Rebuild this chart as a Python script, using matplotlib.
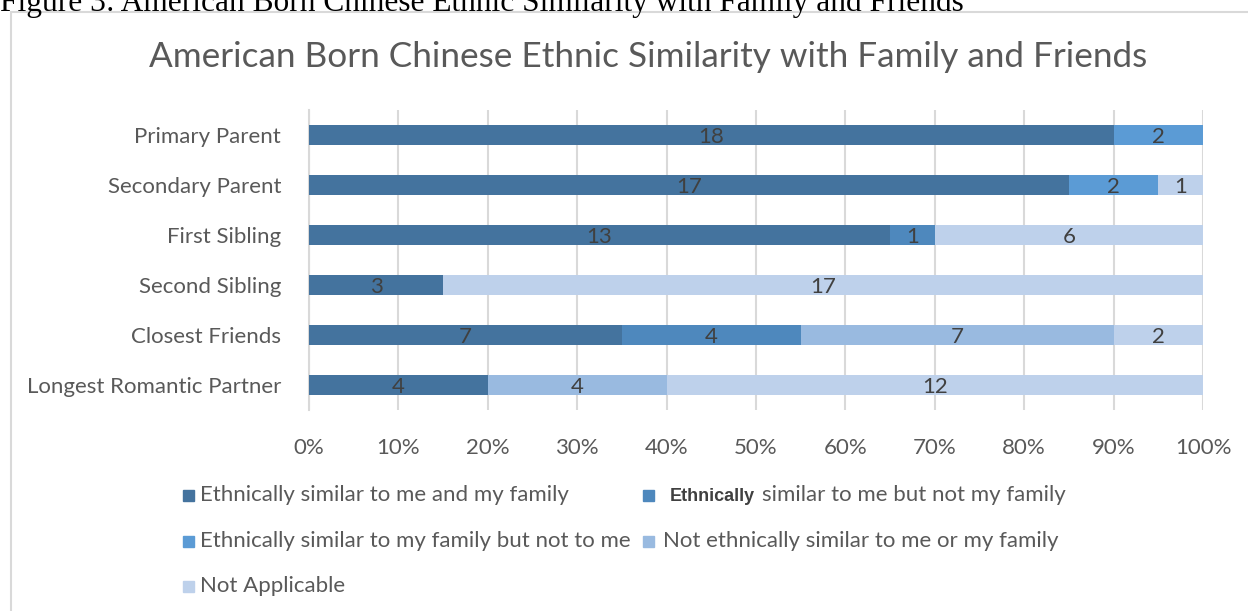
import numpy as np
import matplotlib.pyplot as plt
from matplotlib.patches import Rectangle

plt.rcParams['font.family'] = ['Lato', 'DejaVu Sans']

#%% datos
categorias = ['Primary Parent', 'Secondary Parent', 'First Sibling',
              'Second Sibling', 'Closest Friends', 'Longest Romantic Partner']
similar_yo_familia = [18, 17, 13, 3, 7, 4]
similar_yo_no_familia = [0, 0, 1, 0, 4, 0]
similar_familia_no_yo = [2, 2, 0, 0, 0, 0]
no_similar = [0, 0, 0, 0, 7, 4]
no_aplica = [0, 1, 6, 17, 2, 12]

series = [similar_yo_familia, similar_yo_no_familia, similar_familia_no_yo,
          no_similar, no_aplica]
nombres = ['Ethnically similar to me and my family',
           'Ethnically similar to me but not my family',
           'Ethnically similar to my family but not to me',
           'Not ethnically similar to me or my family',
           'Not Applicable']
colores = ['#44739E', '#4E88BD', '#5B9BD5', '#99BAE0', '#BED1EB']
xticks = np.arange(0, 1.01, 0.1)

#%% ploteo
gris = '#595959'
fs = 16
W, H = 1248, 611
fig = plt.figure(figsize=(W/100, H/100), dpi=100)
ax = fig.add_axes([309/W, 1 - 410/H, 894/W, 300/H])

def px(x, y):
    # pixeles (desde arriba a la izquierda) a coordenadas de figura
    return x / W, 1 - y / H

# marco del grafico
fig.patches.append(Rectangle((11/W, -0.1), 1.2, 1 - 12/H + 0.1,
                             transform=fig.transFigure, fill=False,
                             edgecolor='#D9D9D9', linewidth=1.5))

datos = np.array(series, dtype=float)
total = datos.sum(axis=0)
y = np.arange(len(categorias))
izq = np.zeros(len(categorias))
for s, nombre, c in zip(datos, nombres, colores):
    frac = s / total
    ax.barh(y, frac, left=izq, height=0.4, color=c, label=nombre, zorder=3)
    for yi, (v, f, l) in enumerate(zip(s, frac, izq)):
        if v > 0:
            ax.text(l + f/2, yi + 0.04, f'{int(v)}', ha='center', va='center',
                    fontsize=fs, color='#404040', zorder=4)
    izq += frac

ax.set_xlim(0, 1)
ax.set_ylim(len(categorias) - 0.5, -0.5)
ax.set_xticks(xticks)
ax.set_xticklabels([f'{int(round(t*100))}%' for t in xticks])
ax.set_yticks(y)
ax.set_yticklabels(categorias)
ax.tick_params(length=0, labelsize=fs, labelcolor=gris)
ax.tick_params(axis='y', pad=20)
ax.tick_params(axis='x', pad=20.5)
ax.grid(axis='x', color='#D9D9D9', linewidth=1.5, zorder=0)
for lado in ['top', 'right', 'bottom']:
    ax.spines[lado].set_visible(False)
ax.spines['left'].set_color('#D9D9D9')
ax.spines['left'].set_linewidth(1.5)

fig.text(0.5196, 0.907, 'American Born Chinese Ethnic Similarity with Family and Friends',
         ha='center', va='center', fontsize=25.3, color=gris)
fig.text(*px(0, 11), 'Figure 3: American Born Chinese Ethnic Similarity with Family and Friends',
         ha='left', va='baseline', fontsize=22.6, family='Liberation Serif', color='black')

# leyenda armada a mano: (fila y, columna x) de cada entrada
pos_leyenda = [(495, 183), (495, 643), (541, 183), (541, 643), (586, 183)]
for (yy, xx), nombre, c in zip(pos_leyenda, nombres, colores):
    fig.patches.append(Rectangle(px(xx, yy + 5.5), 11/W, 11/H,
                                 transform=fig.transFigure, color=c))
    if nombre.startswith('Ethnically similar to me but'):
        t = fig.text(*px(670, yy + 6), 'Ethnically', ha='left', va='baseline',
                     fontsize=13, family='Liberation Sans', weight='bold',
                     color='#404040')
        fig.text(*px(762, yy + 6), nombre[len('Ethnically'):].strip(),
                 ha='left', va='baseline', fontsize=fs, color=gris)
    else:
        dx = 17 if xx == 183 else 20
        fig.text(*px(xx + dx, yy + 6), nombre, ha='left', va='baseline',
                 fontsize=fs, color=gris)

plt.savefig('out.png', dpi=100)
